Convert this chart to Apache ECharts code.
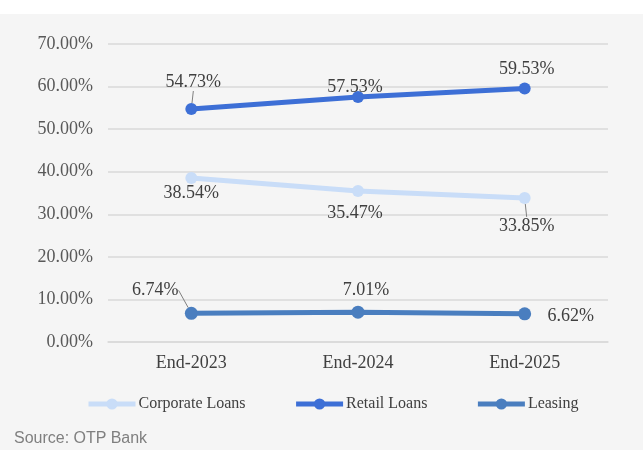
<!DOCTYPE html>
<html>
<head>
<meta charset="utf-8">
<script src="https://cdn.jsdelivr.net/npm/echarts@6/dist/echarts.min.js"></script>
<style>
  html, body { margin:0; padding:0; }
  body { width:643px; height:450px; background: linear-gradient(#ffffff 0, #ffffff 14px, #f5f5f5 14px); position:relative; overflow:hidden; }
  #chart { width:643px; height:450px; position:absolute; left:0; top:0; }
  #src { position:absolute; left:14px; top:429px; font-family:"Liberation Sans", Arial, sans-serif; font-size:16px; color:#7f7f7f; }
</style>
</head>
<body>
<div id="chart"></div>
<div id="src">Source: OTP Bank</div>
<script>
const categories = ['End-2023', 'End-2024', 'End-2025'];
const seriesNames = ['Corporate Loans', 'Retail Loans', 'Leasing'];
const corporateLoans = [38.54, 35.47, 33.85];
const retailLoans = [54.73, 57.53, 59.53];
const leasing = [6.74, 7.01, 6.62];
const yTicks = [0, 10, 20, 30, 40, 50, 60, 70];

// label placement (layout only)
const corpOffsets = [[0, 15], [-3, 22], [2, 28]];
const corpLeader = [false, false, true];
const retailOffsets = [[2, -27], [-3, -10], [2, -19]];
const retailLeader = [true, false, false];
const leaseOffsets = [[-36, -23], [8, -22], [46, 2]];
const leaseLeader = [true, false, false];

const serif = '"Liberation Serif", "Times New Roman", serif';
function build(values, leaders) {
  return values.map((v, i) => ({
    value: v,
    labelLine: { show: leaders[i] }
  }));
}
function mkSeries(name, values, color, offsets, leaders, size) {
  return {
    name: name, type: 'line', data: build(values, leaders),
    symbol: 'circle', symbolSize: size,
    itemStyle: { color: color },
    lineStyle: { color: color, width: 5 },
    label: { show: true, position: 'inside', fontFamily: serif, fontSize: 18, color: '#404040',
      formatter: p => p.value.toFixed(2) + '%' },
    labelLayout: p => ({ dx: offsets[p.dataIndex][0], dy: offsets[p.dataIndex][1] }),
    labelLine: { show: true, lineStyle: { color: '#7f7f7f', width: 1 } },
    emphasis: { disabled: true },
    animation: false
  };
}
const chart = echarts.init(document.getElementById('chart'), null, { renderer: 'canvas' });
chart.setOption({
  backgroundColor: 'transparent',
  animation: false,
  grid: { left: 108, right: 35, top: 44, bottom: 108 },
  legend: {
    left: 86, top: 396, padding: 0, itemWidth: 47, itemHeight: 14, itemGap: 48,
    data: seriesNames,
    lineStyle: { width: 5 },
    textStyle: { fontFamily: serif, fontSize: 16, color: '#404040', padding: [0, 0, 0, -2] }
  },
  xAxis: {
    type: 'category', data: categories, boundaryGap: true,
    axisLine: { show: true, lineStyle: { color: '#d9d9d9', width: 1.5 } },
    axisTick: { show: false },
    axisLabel: { fontFamily: serif, fontSize: 18, color: '#404040', margin: 12 }
  },
  yAxis: {
    type: 'value', min: yTicks[0], max: yTicks[yTicks.length - 1], interval: 10,
    axisLine: { show: false }, axisTick: { show: false },
    splitLine: { lineStyle: { color: '#d9d9d9', width: 1.5 } },
    axisLabel: { fontFamily: serif, fontSize: 18, color: '#595959', margin: 15,
      formatter: v => v.toFixed(2) + '%' }
  },
  series: [
    mkSeries(seriesNames[0], corporateLoans, '#c9ddf8', corpOffsets, corpLeader, 12),
    mkSeries(seriesNames[1], retailLoans, '#3d6fd6', retailOffsets, retailLeader, 12),
    mkSeries(seriesNames[2], leasing, '#4a7ebf', leaseOffsets, leaseLeader, 13)
  ]
});
</script>
</body>
</html>
